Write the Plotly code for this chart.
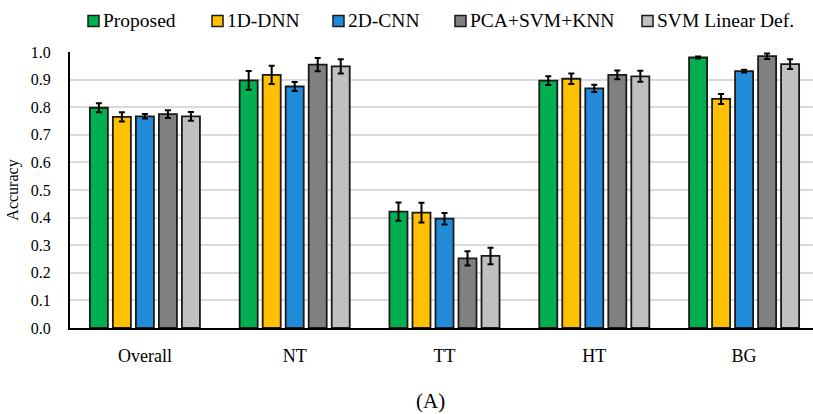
import plotly.graph_objects as go

categories = ["Overall", "NT", "TT", "HT", "BG"]
series_names = ["Proposed", "1D-DNN", "2D-CNN", "PCA+SVM+KNN", "SVM Linear Def."]
colors = ["#00B050", "#FFC000", "#228BD8", "#808080", "#C0C0C0"]

proposed = [0.798, 0.897, 0.422, 0.896, 0.980]
dnn1d = [0.765, 0.917, 0.418, 0.903, 0.830]
cnn2d = [0.767, 0.875, 0.396, 0.868, 0.931]
pca_svm_knn = [0.775, 0.954, 0.252, 0.917, 0.985]
svm_linear = [0.767, 0.948, 0.261, 0.912, 0.956]

proposed_err = [0.016, 0.034, 0.033, 0.016, 0.004]
dnn1d_err = [0.017, 0.033, 0.036, 0.019, 0.018]
cnn2d_err = [0.008, 0.016, 0.021, 0.013, 0.005]
pca_svm_knn_err = [0.014, 0.024, 0.026, 0.016, 0.010]
svm_linear_err = [0.016, 0.026, 0.030, 0.020, 0.018]

values = [proposed, dnn1d, cnn2d, pca_svm_knn, svm_linear]
errors = [proposed_err, dnn1d_err, cnn2d_err, pca_svm_knn_err, svm_linear_err]

FONT = "Liberation Serif"
W, H = 813, 414
L, R, T, B = 70, 0, 52, 86
PW, PH = W - L - R, H - T - B


def px_x(px):
    return (px - L) / PW


def px_y(py):
    return (H - B - py) / PH


fig = go.Figure()
for name, vals, errs, col in zip(series_names, values, errors, colors):
    fig.add_trace(go.Bar(
        name=name, x=categories, y=vals,
        marker=dict(color=col, line=dict(color="#1a1a1a", width=1.8)),
        error_y=dict(type="data", array=errs, visible=True,
                     color="black", thickness=2, width=3),
        showlegend=False,
    ))

# manual legend (legend keys placed in the header)
legend_square_left = [88, 212, 333, 455, 642]
shapes = []
annotations = []
for name, col, sx in zip(series_names, colors, legend_square_left):
    shapes.append(dict(type="rect", xref="paper", yref="paper",
                       x0=px_x(sx), x1=px_x(sx + 11), y0=px_y(26.5), y1=px_y(15.5),
                       fillcolor=col, line=dict(color="#1a1a1a", width=1.5)))
    annotations.append(dict(text=name, xref="paper", yref="paper",
                            x=px_x(sx + 13), y=px_y(21), xanchor="left", yanchor="middle",
                            showarrow=False, font=dict(family=FONT, size=19.5, color="black")))

annotations.append(dict(text="(A)", xref="paper", yref="paper",
                        x=px_x(430), y=px_y(401), xanchor="center", yanchor="middle",
                        showarrow=False, font=dict(family=FONT, size=21, color="black")))

fig.update_layout(
    width=W, height=H,
    barmode="group", bargap=0.232, bargroupgap=0.217,
    plot_bgcolor="white", paper_bgcolor="white",
    margin=dict(l=L, r=R, t=T, b=B, autoexpand=False),
    font=dict(family=FONT, size=16, color="black"),
    showlegend=False,
    xaxis=dict(range=[-0.5, 4.46], showline=True, linecolor="black", linewidth=2,
               tickfont=dict(family=FONT, size=18), ticks="", ticklabelstandoff=10),
    yaxis=dict(range=[0, 1.0], dtick=0.1, tickformat=".1f",
               showgrid=True, gridcolor="#DADADA", gridwidth=1.5,
               showline=True, linecolor="black", linewidth=2,
               zeroline=False, ticks="", ticklabelstandoff=14,
               tickfont=dict(family=FONT, size=16),
               title=dict(text="Accuracy", font=dict(family=FONT, size=16), standoff=8)),
    shapes=shapes,
    annotations=annotations,
)

fig.write_html(
    "out.html",
    config={"displayModeBar": False},
    post_script="document.body.style.margin='0';document.body.style.overflow='hidden';",
)
